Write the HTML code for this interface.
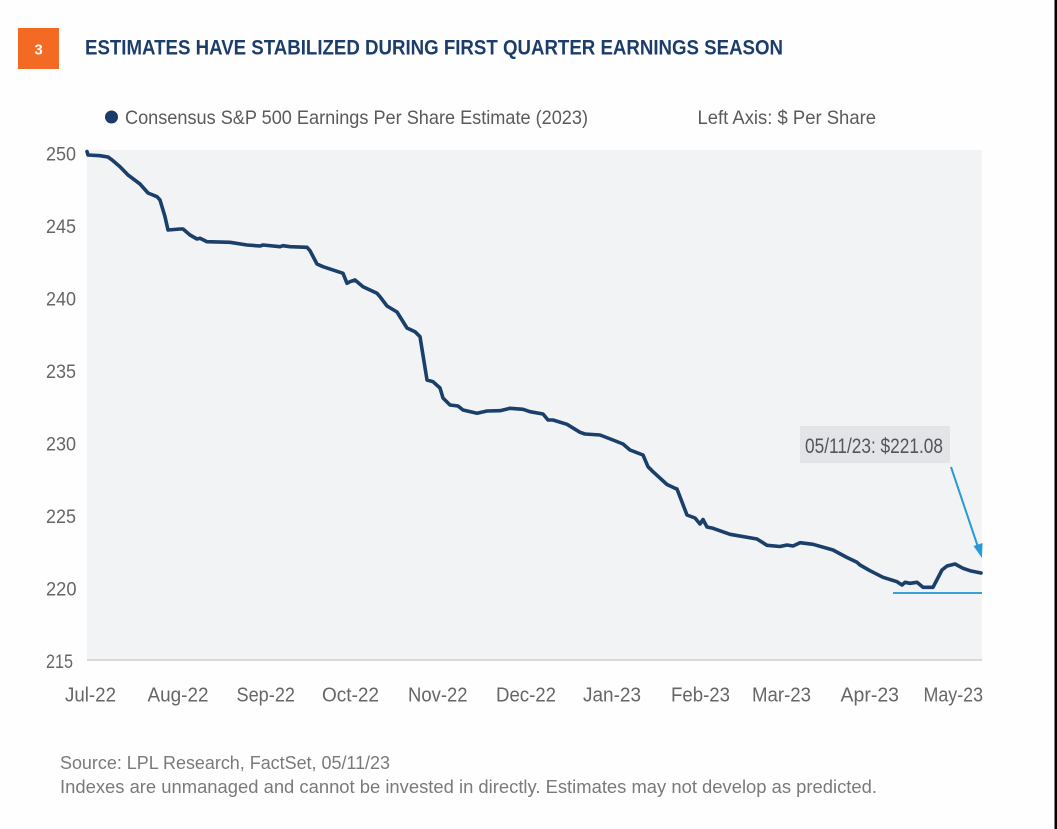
<!DOCTYPE html>
<html>
<head>
<meta charset="utf-8">
<style>
html,body{margin:0;padding:0;background:#fefefe;}
svg{display:block;}
text{font-family:"Liberation Sans",sans-serif;}
</style>
</head>
<body>
<svg width="1057" height="829" viewBox="0 0 1057 829" xmlns="http://www.w3.org/2000/svg">
  <rect x="0" y="0" width="1057" height="829" fill="#fefefe"/>
  <rect x="1054.5" y="0" width="2.5" height="829" fill="#000"/>

  <!-- header -->
  <rect x="18" y="28" width="41" height="41" fill="#f26a24"/>
  <text x="38.5" y="54.5" font-size="15" font-weight="bold" fill="#fff" text-anchor="middle">3</text>
  <text x="85" y="54.5" font-size="21" font-weight="bold" fill="#1c3d6b" textLength="698" lengthAdjust="spacingAndGlyphs">ESTIMATES HAVE STABILIZED DURING FIRST QUARTER EARNINGS SEASON</text>

  <!-- legend -->
  <circle cx="111.5" cy="117" r="6.5" fill="#1b3c69"/>
  <text x="125" y="124" font-size="19.5" fill="#5a5a5a" textLength="463" lengthAdjust="spacingAndGlyphs">Consensus S&amp;P 500 Earnings Per Share Estimate (2023)</text>
  <text x="697.5" y="124" font-size="19.5" fill="#5a5a5a" textLength="178.5" lengthAdjust="spacingAndGlyphs">Left Axis: $ Per Share</text>

  <!-- plot area -->
  <rect x="87" y="150" width="895" height="509.5" fill="#f2f3f5"/>
  <line x1="87" y1="660" x2="982" y2="660" stroke="#d8d9db" stroke-width="2"/>

  <!-- y labels -->
  <g font-size="19" fill="#666">
    <text x="46" y="160.5" textLength="30" lengthAdjust="spacingAndGlyphs">250</text>
    <text x="46" y="233" textLength="30" lengthAdjust="spacingAndGlyphs">245</text>
    <text x="46" y="305.5" textLength="30" lengthAdjust="spacingAndGlyphs">240</text>
    <text x="46" y="378" textLength="30" lengthAdjust="spacingAndGlyphs">235</text>
    <text x="46" y="450.5" textLength="30" lengthAdjust="spacingAndGlyphs">230</text>
    <text x="46" y="523" textLength="30" lengthAdjust="spacingAndGlyphs">225</text>
    <text x="46" y="595.5" textLength="30.5" lengthAdjust="spacingAndGlyphs">220</text>
    <text x="46" y="668" textLength="27" lengthAdjust="spacingAndGlyphs">215</text>
  </g>

  <!-- x labels -->
  <g font-size="20" fill="#666">
    <text x="65" y="701.5" textLength="51" lengthAdjust="spacingAndGlyphs">Jul-22</text>
    <text x="147.5" y="701.5" textLength="61" lengthAdjust="spacingAndGlyphs">Aug-22</text>
    <text x="236.5" y="701.5" textLength="58.5" lengthAdjust="spacingAndGlyphs">Sep-22</text>
    <text x="322" y="701.5" textLength="57" lengthAdjust="spacingAndGlyphs">Oct-22</text>
    <text x="408" y="701.5" textLength="59.5" lengthAdjust="spacingAndGlyphs">Nov-22</text>
    <text x="496" y="701.5" textLength="60" lengthAdjust="spacingAndGlyphs">Dec-22</text>
    <text x="583" y="701.5" textLength="58" lengthAdjust="spacingAndGlyphs">Jan-23</text>
    <text x="671" y="701.5" textLength="59" lengthAdjust="spacingAndGlyphs">Feb-23</text>
    <text x="752" y="701.5" textLength="59" lengthAdjust="spacingAndGlyphs">Mar-23</text>
    <text x="840.5" y="701.5" textLength="58.5" lengthAdjust="spacingAndGlyphs">Apr-23</text>
    <text x="923.5" y="701.5" textLength="59.5" lengthAdjust="spacingAndGlyphs">May-23</text>
  </g>

  <!-- data line -->
  <polyline fill="none" stroke="#1a3f6b" stroke-width="3.6" stroke-linejoin="round" stroke-linecap="round"
    points="87,151.5 88,155 100,155.7 108,157 113,160.7 120,166.7 128,175 140,184 148,193 157,196.7 160,200 165,216.7 168,230 180,229 183,229 190,235 197,239 200,238.3 207,241.7 230,242.3 247,245 260,246 263,245 280,246.7 283,245.7 290,246.7 307,247.3 310,250.7 317,264 323,266.7 343,273.3 347,283.3 350,281.7 355,280 363,286.7 377,293.3 380,296.7 387,306 397,312 407,328 415,331.7 420,336.7 427,380 433,381.7 440,388 443,398 450,405 458,406 463,410 477,413.3 487,411 500,410.7 510,408.3 523,409.3 530,411.7 543,414 548,420 553,420 567,424.3 580,432.3 585,434 600,435 613,440 623,444 630,450 643,455 648,466.7 653,471.7 667,484.5 675,488.3 677,489 687,515 695,518 700,524 703,519.5 707,527 713,528.3 730,534.3 757,539 767,545.3 780,546.5 787,545 793,546 800,542.7 813,544.3 833,550 847,557.5 857,562.3 860,565 870,570.7 883,577.3 897,581.7 902,585 905,582.3 910,583.3 917,582.3 923,587.3 933,587.3 942,570 947,566 955,564 963,568.3 970,570.7 981,573"/>

  <!-- annotation -->
  <line x1="893" y1="593" x2="982" y2="593" stroke="#3aa0d8" stroke-width="2"/>
  <rect x="800" y="426" width="150" height="37" fill="#e2e4e7"/>
  <text x="805" y="453" font-size="21" fill="#555" textLength="138" lengthAdjust="spacingAndGlyphs">05/11/23: $221.08</text>
  <line x1="951" y1="467" x2="978" y2="547" stroke="#2a9ad4" stroke-width="2"/>
  <polygon points="982,558 973.5,546 982.5,543" fill="#2a9ad4"/>

  <!-- footer -->
  <text x="60" y="769" font-size="18" fill="#7a7a7a" textLength="330" lengthAdjust="spacingAndGlyphs">Source: LPL Research, FactSet,  05/11/23</text>
  <text x="60" y="793" font-size="18" fill="#7a7a7a" textLength="817" lengthAdjust="spacingAndGlyphs">Indexes are unmanaged and cannot be invested in directly. Estimates may not develop as predicted.</text>
</svg>
</body>
</html>
